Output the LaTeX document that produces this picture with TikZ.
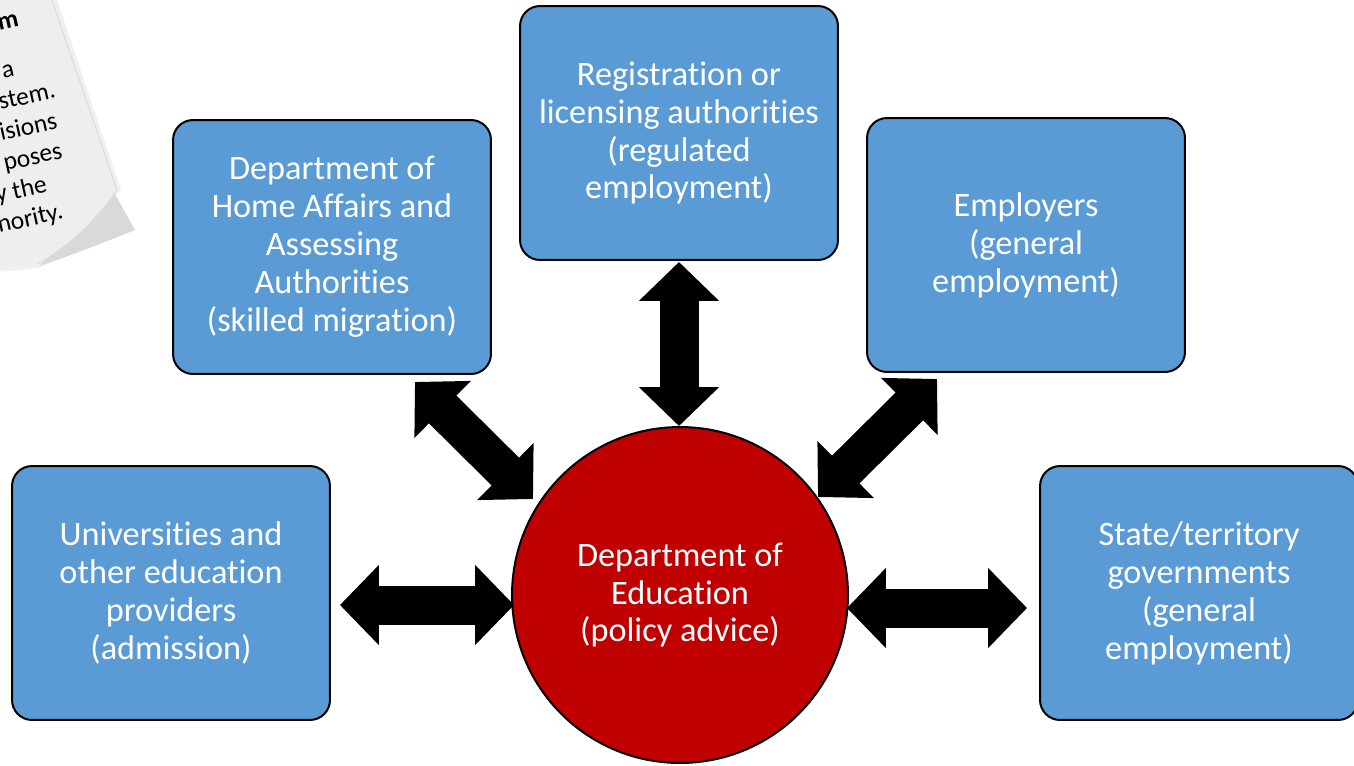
\documentclass[tikz,border=0pt]{standalone}
\usepackage{fontspec}
\setmainfont{Carlito}[Ligatures=NoCommon]
\usetikzlibrary{arrows.meta,calc}

\definecolor{boxblue}{HTML}{5B9BD5}
\definecolor{hubred}{HTML}{C00000}
\definecolor{paper}{HTML}{EEEEEE}

\tikzset{
    box/.style={draw=black, line width=0.04cm, fill=boxblue, rounded corners=0.4cm,
        minimum width=6.36cm, minimum height=5.08cm, inner sep=0pt, outer sep=0pt,
        text=white, align=center, font=\fontsize{19.5}{21.6}\selectfont},
    hub/.style={draw=black, line width=0.04cm, fill=hubred, circle, minimum size=6.72cm,
        inner sep=0pt, outer sep=0pt, text=white, align=center,
        font=\fontsize{19.5}{21.6}\selectfont},
    bigarrow/.style={line width=0.78cm, draw=black,
        {Triangle[length=0.78cm, width=1.56cm]}-{Triangle[length=0.78cm, width=1.56cm]}},
    notetext/.style={anchor=base west, rotate=12.5, inner sep=0pt, text=black,
        font=\fontsize{14.5}{16}\selectfont}
}

\begin{document}
\begin{tikzpicture}[x=0.02cm, y=-0.02cm]
    \useasboundingbox (0,0) rectangle (1354,765);
    \fill[white] (0,0) rectangle (1354,765);

    % note sheet in the corner
    \fill[gray!12] (-300,-100) -- (34,-80) -- (57,0) -- (121,190) -- (40,268) -- (-300,300) -- cycle;
    \fill[gray!30] (106,178) -- (135,230) .. controls (105,242) and (75,254) .. (40,266) -- cycle;
    \fill[paper] (-300,-100) -- (30,-80) -- (52,0) -- (117,190)
        .. controls (98,218) and (72,244) .. (38,264) -- (-300,300) -- cycle;
    \draw[gray!28, line width=0.02cm] (30,-80) -- (52,0) -- (117,190)
        .. controls (98,218) and (72,244) .. (38,264);
    \node[notetext, font=\fontsize{14.5}{16}\selectfont\bfseries] (ntitle) at (-1,31) {m};
    \node[notetext] (nl1) at (3,79) {a};
    \node[notetext] (nl2) at (0,110) {stem.};
    \node[notetext] (nl3) at (1,141) {isions};
    \node[notetext] (nl4) at (5,171) {poses};
    \node[notetext] (nl5) at (-3,203) {y the};
    \node[notetext] (nl6) at (-1,233) {nority.};

    \node[box] (uni) at (171,593) {Universities and\\other education\\providers\\(admission)};
    \node[box] (home) at (332,247) {Department of\\Home Affairs and\\Assessing\\Authorities\\(skilled migration)};
    \node[box] (reg) at (679,133) {Registration or\\licensing authorities\\(regulated\\employment)};
    \node[box] (emp) at (1026,245) {Employers\\(general\\employment)};
    \node[box] (state) at (1199,593) {State/territory\\governments\\(general\\employment)};
    \node[hub] (edu) at (680,595) {Department of\\Education\\(policy advice)};

    \draw[bigarrow] ($(uni.east)+(10,12)$) -- ($(edu.west)+(2,10)$);
    \draw[bigarrow] ($(edu.east)+(-1,13)$) -- ($(state.west)+(-13,15)$);
    \draw[bigarrow] ($(reg.south)+(0,2)$) -- ($(edu.north)+(-1,-1)$);
    \draw[bigarrow] ($(home.south east)+(-76,8)$) -- ($(edu.center)+(-147,-96)$);
    \draw[bigarrow] ($(emp.south west)+(70,7)$) -- ($(edu.center)+(138,-98)$);
\end{tikzpicture}
\end{document}
